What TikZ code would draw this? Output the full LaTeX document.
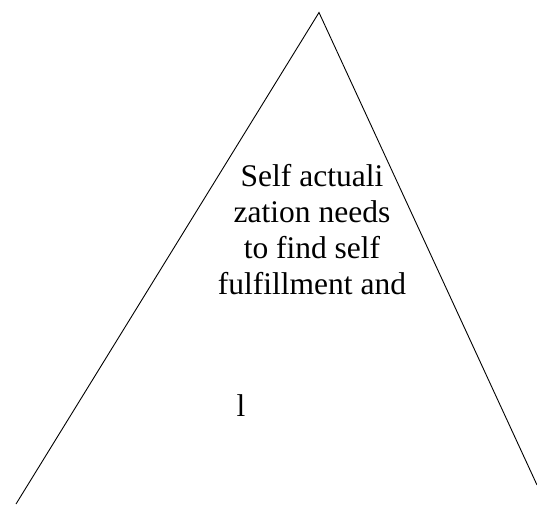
\documentclass[tikz,border=0pt]{standalone}
\usepackage{fontspec}
\setmainfont{Liberation Serif}
\usepackage{tikz}

\begin{document}
\begin{tikzpicture}[x=1pt,y=-1pt,line width=0.9pt]
	\def\fs{31.5}
	\def\bs{35.7}
	\tikzset{
		label text/.style={inner sep=0pt,anchor=base,align=center,
			font=\fontsize{\fs}{\bs}\selectfont}
	}
	\useasboundingbox (0,0) rectangle (537,504);
	
	\coordinate (apex) at (319,12.5);
	\coordinate (baseL) at (16,504);
	\coordinate (baseR) at (537,485);
	
	% pyramid sides
	\draw (baseL)--(apex)--(baseR);
	
	\node[label text] (selfact) at (312,294) {Self actuali\\zation needs\\to find self\\fulfillment and};
	\node[label text] (lvl) at (241,416) {l};
\end{tikzpicture}
\end{document}
